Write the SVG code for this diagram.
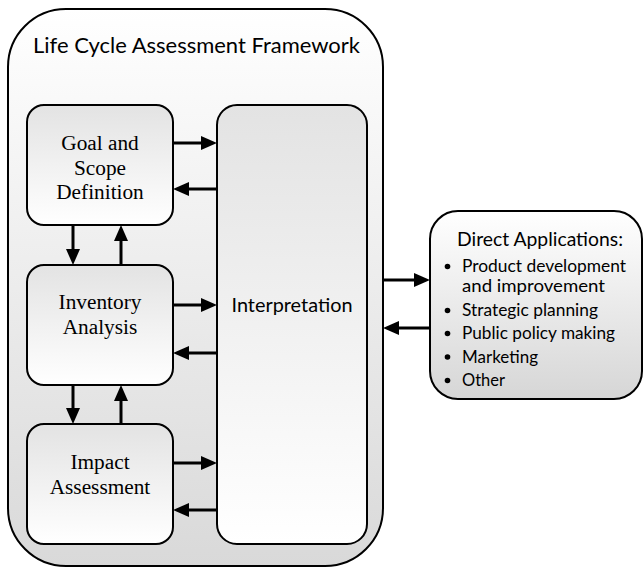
<svg xmlns="http://www.w3.org/2000/svg" width="644" height="569" viewBox="0 0 644 569">
  <defs>
    <linearGradient id="gFrame" x1="0" y1="0" x2="0" y2="1">
      <stop offset="0" stop-color="#ffffff"/>
      <stop offset="1" stop-color="#d9d9d9"/>
    </linearGradient>
    <linearGradient id="gBox" x1="0" y1="0" x2="0" y2="1">
      <stop offset="0" stop-color="#e3e3e3"/>
      <stop offset="1" stop-color="#ffffff"/>
    </linearGradient>
    <linearGradient id="gApps" x1="0" y1="0" x2="0" y2="1">
      <stop offset="0" stop-color="#ffffff"/>
      <stop offset="1" stop-color="#d6d6d6"/>
    </linearGradient>
    <marker id="head" markerUnits="userSpaceOnUse" markerWidth="16" markerHeight="14" refX="0" refY="7" orient="auto">
      <path d="M0,0 L16,7 L0,14 z" fill="#000"/>
    </marker>
  </defs>
  <style>
    .frame { fill: url(#gFrame); stroke: #000; stroke-width: 2; }
    .box { fill: url(#gBox); stroke: #000; stroke-width: 2; }
    .apps { fill: url(#gApps); stroke: #000; stroke-width: 2; }
    .sans { font-family: Lato, "Liberation Sans", sans-serif; fill: #000; }
    .serif { font-family: "Liberation Serif", serif; font-size: 21.3px; fill: #000; text-anchor: middle; }
    .conn line { stroke: #000; stroke-width: 3; marker-end: url(#head); }
    .dot { fill: #000; }
  </style>

  <!-- outer framework container -->
  <g id="framework">
    <rect class="frame" x="8" y="9" width="375" height="557" rx="58" ry="58"/>
    <text class="sans" x="33" y="53" font-size="22" textLength="327" lengthAdjust="spacingAndGlyphs">Life Cycle Assessment Framework</text>
  </g>

  <g id="goal">
    <rect class="box" x="27" y="105" width="146" height="120" rx="17" ry="17"/>
    <text class="serif" x="100" y="150">Goal and</text>
    <text class="serif" x="100" y="174.5">Scope</text>
    <text class="serif" x="100" y="199">Definition</text>
  </g>

  <g id="inventory">
    <rect class="box" x="27" y="265" width="146" height="120" rx="17" ry="17"/>
    <text class="serif" x="100" y="309">Inventory</text>
    <text class="serif" x="100" y="333.5">Analysis</text>
  </g>

  <g id="impact">
    <rect class="box" x="27" y="424" width="146" height="120" rx="17" ry="17"/>
    <text class="serif" x="100" y="469">Impact</text>
    <text class="serif" x="100" y="494">Assessment</text>
  </g>

  <g id="interpretation">
    <rect class="box" x="217" y="105" width="150" height="439" rx="20" ry="20"/>
    <text class="sans" x="292" y="312" font-size="19.5" text-anchor="middle" textLength="121" lengthAdjust="spacingAndGlyphs">Interpretation</text>
  </g>

  <g id="applications">
    <rect class="apps" x="430" y="211" width="212" height="188" rx="28" ry="28"/>
    <text class="sans" x="457" y="246" font-size="19" textLength="166" lengthAdjust="spacingAndGlyphs">Direct Applications:</text>
    <circle class="dot" cx="447.5" cy="266.5" r="2.8"/>
    <text class="sans" x="462" y="272" font-size="17" textLength="164" lengthAdjust="spacingAndGlyphs">Product development</text>
    <text class="sans" x="462" y="292" font-size="17" textLength="143" lengthAdjust="spacingAndGlyphs">and improvement</text>
    <circle class="dot" cx="447.5" cy="310.5" r="2.8"/>
    <text class="sans" x="462" y="316" font-size="17" textLength="136" lengthAdjust="spacingAndGlyphs">Strategic planning</text>
    <circle class="dot" cx="447.5" cy="333.5" r="2.8"/>
    <text class="sans" x="462" y="339" font-size="17" textLength="153" lengthAdjust="spacingAndGlyphs">Public policy making</text>
    <circle class="dot" cx="447.5" cy="357" r="2.8"/>
    <text class="sans" x="462" y="362.5" font-size="17" textLength="76" lengthAdjust="spacingAndGlyphs">Marketing</text>
    <circle class="dot" cx="447.5" cy="380.5" r="2.8"/>
    <text class="sans" x="462" y="386" font-size="17" textLength="43" lengthAdjust="spacingAndGlyphs">Other</text>
  </g>

  <!-- arrows -->
  <g id="connectors" class="conn">
    <!-- stages to interpretation and back -->
    <line x1="173" y1="143" x2="201" y2="143"/>
    <line x1="217" y1="189" x2="189" y2="189"/>
    <line x1="173" y1="305" x2="201" y2="305"/>
    <line x1="217" y1="353" x2="189" y2="353"/>
    <line x1="173" y1="463" x2="201" y2="463"/>
    <line x1="217" y1="510" x2="189" y2="510"/>
    <!-- between stages -->
    <line x1="73" y1="225" x2="73" y2="249"/>
    <line x1="121" y1="265" x2="121" y2="241"/>
    <line x1="73" y1="385" x2="73" y2="408"/>
    <line x1="121" y1="424" x2="121" y2="401"/>
    <!-- framework to applications -->
    <line x1="383" y1="280" x2="414" y2="280"/>
    <line x1="430" y1="328" x2="399" y2="328"/>
  </g>
</svg>
